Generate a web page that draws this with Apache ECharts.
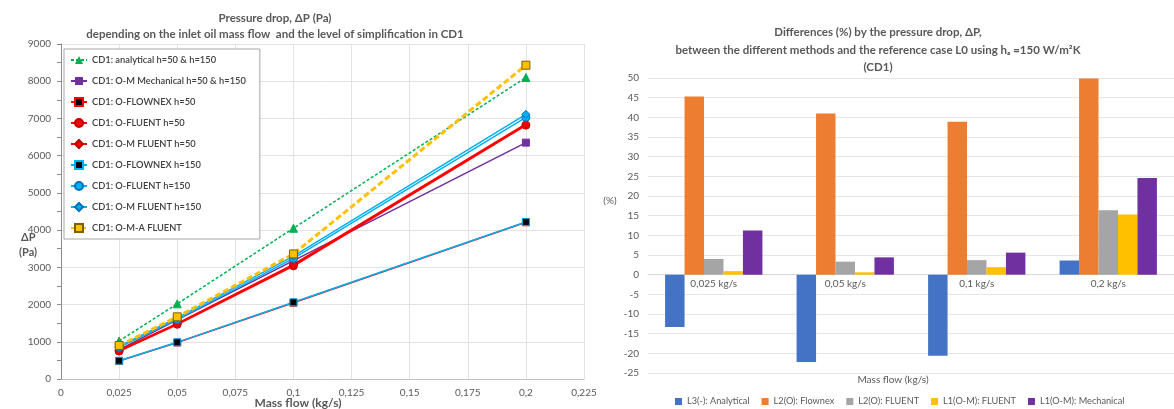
<!DOCTYPE html>
<html>
<head>
<meta charset="utf-8">
<style>
  html, body { margin: 0; padding: 0; background: #fff; }
  #chart { width: 1174px; height: 409px; }
</style>
<script src="https://cdn.jsdelivr.net/npm/echarts@6/dist/echarts.min.js"></script>
</head>
<body>
<div id="chart"></div>
<script>
// ---- Pressure drop vs. inlet oil mass flow (kg/s) ----
const massFlow = [0.025, 0.05, 0.1, 0.2];

const analytical      = [1020, 2020, 4050, 8100];
const omMechanical    = [790, 1590, 3180, 6350];
const oFlownex50      = [485, 980, 2050, 4210];
const oFluent50       = [750, 1470, 3040, 6820];
const omFluent50      = [770, 1490, 3070, 6850];
const oFlownex150     = [490, 985, 2060, 4220];
const oFluent150      = [850, 1600, 3240, 7030];
const omFluent150     = [880, 1640, 3300, 7110];
const omaFluent       = [900, 1670, 3360, 8430];

// ---- Differences (%) against reference case L0 ----
const flowCategories  = ['0,025 kg/s', '0,05 kg/s', '0,1 kg/s', '0,2 kg/s'];
const diffAnalytical  = [-13.3, -22.2, -20.6, 3.6];
const diffFlownex     = [45.3, 41.0, 38.9, 49.9];
const diffFluent      = [4.0, 3.3, 3.7, 16.4];
const diffOmFluent    = [0.9, 0.6, 1.9, 15.3];
const diffMechanical  = [11.2, 4.4, 5.6, 24.6];

const FONT = 'Lato, "Open Sans", sans-serif';
const TXT = '#595959';

// right-hand plot: value range and the pixel box it is drawn in
const DIFF_MIN = -25, DIFF_MAX = 50;
const BAR_GRID = { left: 648, right: -19, top: 78, height: 295 };
// shift of the category axis so that it sits on the 0 % line
const zeroShift = BAR_GRID.height * (0 - DIFF_MIN) / (DIFF_MAX - DIFF_MIN);

const pairs = vals => vals.map((v, i) => [massFlow[i], v]);

function lineSeries(name, vals, opt) {
  return Object.assign({
    name: name,
    type: 'line',
    xAxisIndex: 0,
    yAxisIndex: 0,
    data: pairs(vals),
    symbolSize: 7,
    z: 3
  }, opt);
}

function barSeries(name, vals, color) {
  return {
    name: name, type: 'bar', xAxisIndex: 1, yAxisIndex: 1, data: vals,
    itemStyle: { color: color }, barGap: '0%', barCategoryGap: '26%'
  };
}

const chart = echarts.init(document.getElementById('chart'), null, { renderer: 'canvas' });

const option = {
  animation: false,
  textStyle: { fontFamily: FONT },
  title: [
    {
      text: 'Pressure drop, ΔP (Pa)\ndepending on the inlet oil mass flow  and the level of simplification in CD1',
      left: 275, top: 10, padding: 0, textAlign: 'center',
      textStyle: { fontFamily: FONT, fontSize: 11.5, fontWeight: 'bold', color: TXT, lineHeight: 16 }
    },
    {
      text: 'Differences (%) by the pressure drop, ΔP,\nbetween the different methods and the reference case L0 using hₐ =150 W/m²K\n(CD1)',
      left: 878, top: 24, padding: 0, textAlign: 'center',
      textStyle: { fontFamily: FONT, fontSize: 11.5, fontWeight: 'bold', color: TXT, lineHeight: 17.5 }
    }
  ],
  grid: [
    { left: 61, right: 590, top: 44, bottom: 30 },
    BAR_GRID
  ],
  legend: [
    {
      orient: 'vertical',
      left: 64, top: 49,
      padding: [4, 14, 4, 6],
      backgroundColor: '#fff',
      borderColor: '#A6A6A6',
      borderWidth: 1,
      itemWidth: 16, itemHeight: 10, itemGap: 7,
      textStyle: { fontFamily: FONT, fontSize: 9.3, color: '#404040', lineHeight: 14, fontWeight: 600 },
      data: [
        'CD1: analytical h=50 & h=150',
        'CD1: O-M Mechanical h=50 & h=150',
        'CD1: O-FLOWNEX h=50',
        'CD1: O-FLUENT h=50',
        'CD1: O-M FLUENT h=50',
        'CD1: O-FLOWNEX h=150',
        'CD1: O-FLUENT h=150',
        'CD1: O-M FLUENT h=150',
        'CD1: O-M-A FLUENT'
      ]
    },
    {
      orient: 'horizontal',
      left: 675, top: 397,
      padding: 0,
      itemWidth: 7, itemHeight: 7, itemGap: 12,
      icon: 'rect',
      textStyle: { fontFamily: FONT, fontSize: 9.2, color: TXT },
      data: ['L3(-): Analytical', 'L2(O): Flownex', 'L2(O): FLUENT', 'L1(O-M): FLUENT', 'L1(O-M): Mechanical']
    }
  ],
  xAxis: [
    {
      gridIndex: 0,
      type: 'value',
      min: 0, max: 0.225, interval: 0.025,
      axisLine: { show: true, lineStyle: { color: '#BFBFBF' } },
      axisTick: { show: false },
      axisLabel: {
        color: TXT, fontSize: 10, margin: 9,
        formatter: v => (v === 0 ? '0' : String(+v.toFixed(3)).replace('.', ','))
      },
      splitLine: { show: true, lineStyle: { color: '#E3E3E3' } }
    },
    {
      gridIndex: 1,
      type: 'category',
      data: flowCategories,
      position: 'bottom',
      offset: -zeroShift,
      axisLine: { show: true, onZero: false, lineStyle: { color: '#D9D9D9' } },
      axisTick: { show: false },
      axisLabel: { color: TXT, fontSize: 10, margin: 4 },
      splitLine: { show: false }
    }
  ],
  yAxis: [
    {
      gridIndex: 0,
      type: 'value',
      min: 0, max: 9000, interval: 1000,
      axisLine: { show: true, lineStyle: { color: '#8C8C8C' } },
      axisTick: { show: true, length: 4, lineStyle: { color: '#8C8C8C' } },
      minorTick: { show: true, splitNumber: 2, length: 4, lineStyle: { color: '#8C8C8C' } },
      axisLabel: { color: TXT, fontSize: 10, margin: 10, formatter: v => String(v) },
      splitLine: { show: true, lineStyle: { color: '#E3E3E3' } }
    },
    {
      gridIndex: 1,
      type: 'value',
      min: DIFF_MIN, max: DIFF_MAX, interval: 5,
      axisLine: { show: false },
      axisTick: { show: false },
      axisLabel: { color: TXT, fontSize: 10, margin: 9 },
      splitLine: { show: true, lineStyle: { color: '#E6E6E6', width: 1 } }
    }
  ],
  graphic: [
    { type: 'text', left: 21, top: 232, style: { text: 'ΔP', font: 'bold 11px ' + FONT, fill: TXT } },
    { type: 'text', left: 19, top: 247, style: { text: '(Pa)', font: 'bold 11px ' + FONT, fill: TXT } },
    { type: 'text', x: 298, y: 403, style: { text: 'Mass flow (kg/s)', font: 'bold 12px ' + FONT, fill: TXT, align: 'center', verticalAlign: 'middle' } },
    { type: 'text', x: 610, y: 201, style: { text: '(%)', font: '10px ' + FONT, fill: TXT, align: 'center', verticalAlign: 'middle' } },
    { type: 'text', x: 893, y: 380, style: { text: 'Mass flow (kg/s)', font: '10px ' + FONT, fill: TXT, align: 'center', verticalAlign: 'middle' } }
  ],
  series: [
    lineSeries('CD1: analytical h=50 & h=150', analytical, {
      symbol: 'triangle', symbolSize: 8,
      lineStyle: { color: '#00B050', width: 1.5, type: [3, 2] },
      itemStyle: { color: '#00B050', borderColor: '#00B050' }
    }),
    lineSeries('CD1: O-M Mechanical h=50 & h=150', omMechanical, {
      symbol: 'rect', symbolSize: 7,
      lineStyle: { color: '#7030A0', width: 1.5 },
      itemStyle: { color: '#7030A0', borderColor: '#7030A0' }
    }),
    lineSeries('CD1: O-FLOWNEX h=50', oFlownex50, {
      symbol: 'rect', symbolSize: 7,
      lineStyle: { color: '#FF0000', width: 1.5 },
      itemStyle: { color: '#000000', borderColor: '#FF0000', borderWidth: 1 }
    }),
    lineSeries('CD1: O-FLUENT h=50', oFluent50, {
      symbol: 'circle', symbolSize: 8,
      lineStyle: { color: '#FF0000', width: 2 },
      itemStyle: { color: '#FF0000', borderColor: '#C00000', borderWidth: 1 }
    }),
    lineSeries('CD1: O-M FLUENT h=50', omFluent50, {
      symbol: 'diamond', symbolSize: 8,
      lineStyle: { color: '#FF0000', width: 2 },
      itemStyle: { color: '#FF0000', borderColor: '#C00000', borderWidth: 1 }
    }),
    lineSeries('CD1: O-FLOWNEX h=150', oFlownex150, {
      symbol: 'rect', symbolSize: 7,
      lineStyle: { color: '#00B0F0', width: 1.5 },
      itemStyle: { color: '#000000', borderColor: '#00B0F0', borderWidth: 1 }
    }),
    lineSeries('CD1: O-FLUENT h=150', oFluent150, {
      symbol: 'circle', symbolSize: 8,
      lineStyle: { color: '#00B0F0', width: 1.5 },
      itemStyle: { color: '#00B0F0', borderColor: '#0070C0', borderWidth: 1 }
    }),
    lineSeries('CD1: O-M FLUENT h=150', omFluent150, {
      symbol: 'diamond', symbolSize: 8,
      lineStyle: { color: '#00B0F0', width: 1.5 },
      itemStyle: { color: '#00B0F0', borderColor: '#0070C0', borderWidth: 1 }
    }),
    lineSeries('CD1: O-M-A FLUENT', omaFluent, {
      symbol: 'rect', symbolSize: 8,
      lineStyle: { color: '#FFC000', width: 3, type: [6, 3] },
      itemStyle: { color: '#FFC000', borderColor: '#7F6000', borderWidth: 1 }
    }),

    // percentage differences, grouped per mass flow
    barSeries('L3(-): Analytical', diffAnalytical, '#4472C4'),
    barSeries('L2(O): Flownex', diffFlownex, '#ED7D31'),
    barSeries('L2(O): FLUENT', diffFluent, '#A5A5A5'),
    barSeries('L1(O-M): FLUENT', diffOmFluent, '#FFC000'),
    barSeries('L1(O-M): Mechanical', diffMechanical, '#7030A0')
  ]
};

chart.setOption(option);
</script>
</body>
</html>
